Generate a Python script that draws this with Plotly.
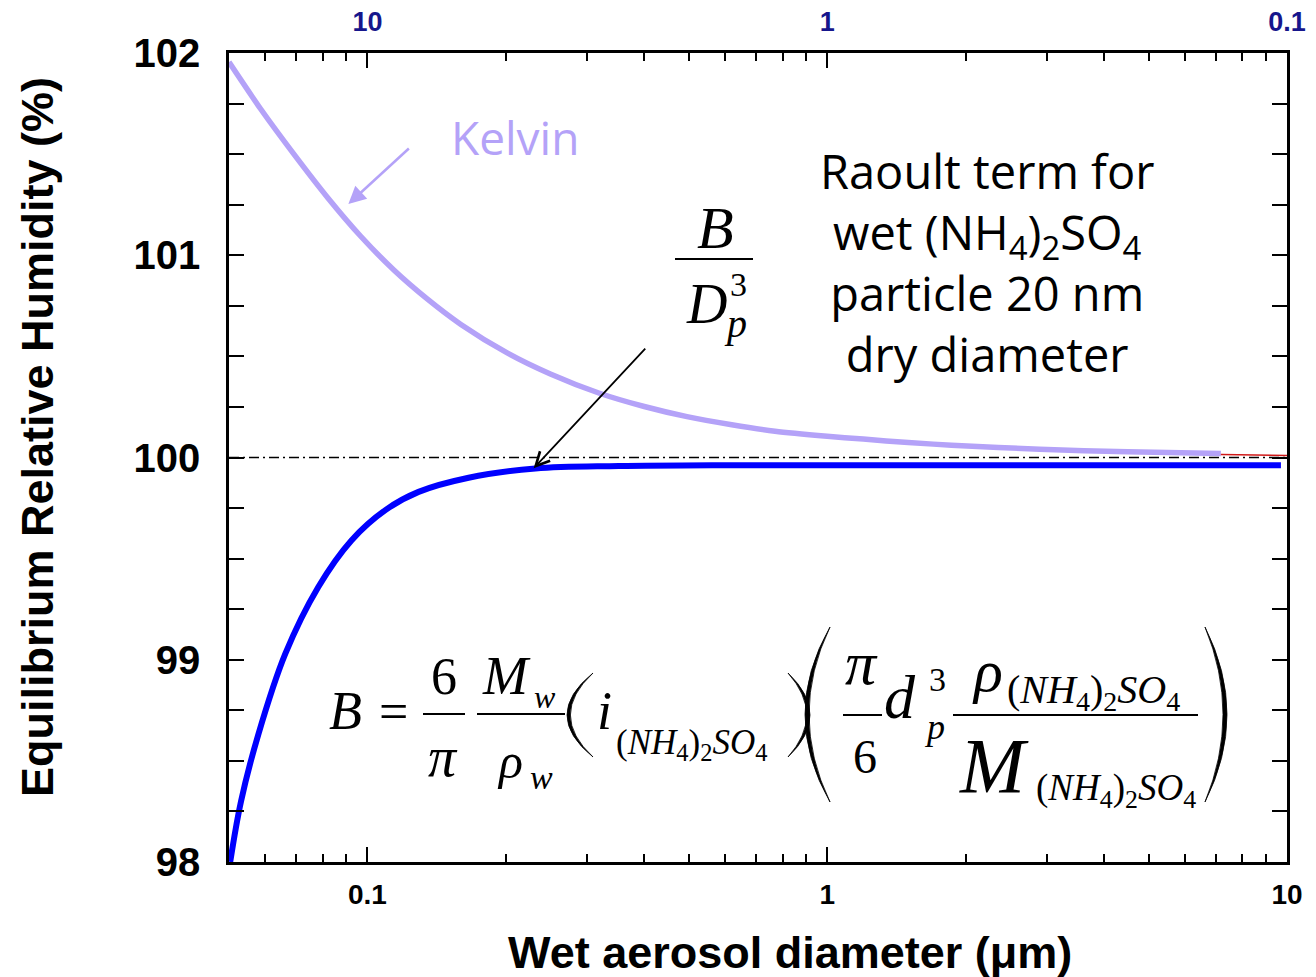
import math
import plotly.graph_objects as go

# ---------------- data ----------------
kelvin_d = [0.05, 0.0586, 0.0692, 0.0818, 0.0967, 0.1143, 0.1351, 0.1597, 0.2018, 0.25,
            0.3186, 0.4, 0.4955, 0.62, 0.770, 1.0, 1.198, 1.5, 1.863, 2.897, 4.504, 7.18]
kelvin_rh = [101.955, 101.723, 101.50, 101.287, 101.094, 100.926, 100.783, 100.658, 100.516,
             100.413, 100.319, 100.252, 100.202, 100.162, 100.130, 100.105, 100.091, 100.074,
             100.061, 100.041, 100.028, 100.02]

raoult_d = [0.0503, 0.0531, 0.0579, 0.0663, 0.0782, 0.0923, 0.1094, 0.1292, 0.166,
            0.232, 0.352, 0.6, 1.0, 2.0, 5.0, 9.7]
raoult_rh = [98.0, 98.30, 98.63, 99.03, 99.36, 99.59, 99.74, 99.83, 99.90,
             99.946, 99.958, 99.962, 99.962, 99.962, 99.962, 99.962]

red_d = [7.18, 10.0]
red_rh = [100.015, 100.010]

ref_d = [0.05, 10.0]
ref_rh = [100.0, 100.0]

x_range = [0.05, 10.0]
y_range = [98, 102]
x_major = [0.1, 1, 10]
x_major_text = ["0.1", "1", "10"]
x_top_text = ["10", "1", "0.1"]
x_minor = [0.06, 0.07, 0.08, 0.09, 0.2, 0.3, 0.4, 0.5, 0.6, 0.7, 0.8, 0.9,
           2, 3, 4, 5, 6, 7, 8, 9]

# ---------------- layout helpers ----------------
W, H = 1316, 977
ML, MR, MT, MB = 229, 29, 53, 115
PW, PH = W - ML - MR, H - MT - MB


def px(x):
    return (x - ML) / PW


def py(y):
    return (H - MB - y) / PH


SANS = "Liberation Sans, Arial, sans-serif"
SERIF = "Liberation Serif, Times New Roman, serif"
HAND = "Open Sans, sans-serif"
PURPLE = "#B4A2F8"
BLUE = "#0000FF"
NAVY = "#16168C"

fig = go.Figure()
fig.add_trace(go.Scatter(x=ref_d, y=ref_rh, mode="lines", hoverinfo="skip",
                         line=dict(color="black", width=1.5, dash="10px,4px,2px,4px")))
fig.add_trace(go.Scatter(x=kelvin_d, y=kelvin_rh, mode="lines", name="Kelvin",
                         line=dict(color=PURPLE, width=5.5, shape="spline", smoothing=0.8)))
fig.add_trace(go.Scatter(x=red_d, y=red_rh, mode="lines", hoverinfo="skip",
                         line=dict(color="#D01818", width=1.5)))
fig.add_trace(go.Scatter(x=raoult_d, y=raoult_rh, mode="lines", name="Raoult",
                         line=dict(color=BLUE, width=6, shape="spline")))
fig.add_trace(go.Scatter(x=x_range, y=ref_rh, xaxis="x2", mode="lines", opacity=0,
                         hoverinfo="skip", line=dict(width=0)))

annotations = []


def tok(text, cx, base, size, anchor="center"):
    top = base - 0.891 * size - 1
    annotations.append(dict(text=text, xref="paper", yref="paper", x=px(cx), y=py(top),
                            xanchor=anchor, yanchor="top", showarrow=False,
                            font=dict(family=SERIF, size=size, color="black")))


chem = "(<i>NH</i><sub>4</sub>)<sub>2</sub><i>SO</i><sub>4</sub>"

# B / Dp^3
tok("<i>B</i>", 715, 247, 60)
tok("<i>D</i>", 706, 322, 56)
tok("3", 738, 295, 34)
tok("<i>p</i>", 735, 336, 40)

# main equation, left part
tok("<i>B</i>", 345, 728, 54)
tok("=", 393, 728, 52)
tok("6", 444, 693, 52)
tok("<i>π</i>", 443, 775, 56)
tok("<i>M</i>", 506, 693, 54)
tok("<i>w</i>", 545, 707, 32)
tok("<i>ρ</i>", 510, 777, 50)
tok("<i>w</i>", 541, 788, 34)
tok("<i>i</i>", 604, 728, 54)
tok(chem, 614, 753, 35, anchor="left")

# right part
tok("<i>π</i>", 861, 683, 62)
tok("6", 865, 772, 48)
tok("<i>d</i>", 900, 717, 62)
tok("3", 937, 690, 34)
tok("<i>p</i>", 934, 738, 36)
tok("<i>ρ</i>", 987, 690, 60)
tok(chem, 1005, 702, 40, anchor="left")
tok("<i>M</i>", 994, 790, 78)
tok(chem, 1034, 799, 37, anchor="left")

shapes = []


def hline(x0, x1, y):
    shapes.append(dict(type="line", xref="paper", yref="paper", x0=px(x0), x1=px(x1),
                       y0=py(y), y1=py(y), line=dict(color="black", width=2.2)))


def paren(x0, x1, y0, y1, left=True, t=3.5):
    ym = (y0 + y1) / 2
    if left:
        e = x1
        co = 2 * x0 - x1
        ci = 2 * (x0 + t) - x1
    else:
        e = x0
        co = 2 * x1 - x0
        ci = 2 * (x1 - t) - x0
    path = (f"M{px(e)},{py(y0)} Q{px(co)},{py(ym)} {px(e)},{py(y1)} "
            f"Q{px(ci)},{py(ym)} {px(e)},{py(y0)} Z")
    shapes.append(dict(type="path", xref="paper", yref="paper", path=path,
                       fillcolor="black", line=dict(color="black", width=0.8)))


hline(675, 753, 259)
hline(423, 465, 714)
hline(477, 565, 714)
hline(843, 882, 715)
hline(953, 1198, 715)
paren(567, 593, 673, 757, left=True, t=3.4)
paren(788, 810, 673, 757, left=False, t=3.4)
paren(805, 830, 627, 802, left=True, t=4)
paren(1205, 1227, 627, 802, left=False, t=4)

# texts
annotations.append(dict(text="Kelvin", xref="paper", yref="paper", x=px(515), y=py(137),
                        xanchor="center", yanchor="middle", showarrow=False,
                        font=dict(family=HAND, size=46, color=PURPLE)))
annotations.append(dict(text="Raoult term for<br>wet (NH<sub>4</sub>)<sub>2</sub>SO<sub>4</sub>"
                             "<br>particle 20 nm<br>dry diameter",
                        xref="paper", yref="paper", x=px(987), y=py(262),
                        xanchor="center", yanchor="middle", align="center", showarrow=False,
                        font=dict(family=HAND, size=47, color="black")))
annotations.append(dict(text="Wet aerosol diameter (μm)", xref="paper", yref="paper",
                        x=px(790), y=py(952), xanchor="center", yanchor="middle",
                        showarrow=False,
                        font=dict(family=SANS, size=45, color="black", weight="bold")))
annotations.append(dict(text="Equilibrium Relative Humidity (%)", xref="paper", yref="paper",
                        x=px(37), y=py(437), xanchor="center", yanchor="middle",
                        textangle=-90, showarrow=False,
                        font=dict(family=SANS, size=45, color="black", weight="bold")))

# arrows
annotations.append(dict(x=math.log10(0.0909), y=101.253, xref="x", yref="y", text="",
                        showarrow=True, ax=62, ay=-57, arrowcolor=PURPLE, arrowwidth=2.5,
                        arrowhead=2, arrowsize=1.4, standoff=0))
annotations.append(dict(x=math.log10(0.2299), y=99.947, xref="x", yref="y", text="",
                        showarrow=True, ax=113, ay=-121, arrowcolor="black", arrowwidth=1.8,
                        arrowhead=5, arrowsize=1.5, standoff=0))

tickfont = dict(family=SANS, size=28, color="black", weight="bold")
fig.update_layout(
    width=W, height=H,
    margin=dict(l=ML, r=MR, t=MT, b=MB, pad=0, autoexpand=False),
    paper_bgcolor="white", plot_bgcolor="white",
    showlegend=False,
    xaxis=dict(type="log", range=[math.log10(x_range[0]), math.log10(x_range[1])],
               automargin=False,
               tickmode="array", tickvals=x_major, ticktext=x_major_text,
               ticks="inside", ticklen=15, tickwidth=2, tickcolor="black",
               showline=True, linewidth=2.5, linecolor="black", mirror="allticks",
               showgrid=False, zeroline=False, tickfont=tickfont, ticklabelstandoff=6,
               minor=dict(tickmode="array", tickvals=x_minor, ticks="inside", ticklen=8,
                          tickwidth=1.8, tickcolor="black", showgrid=False)),
    xaxis2=dict(type="log", overlaying="x", side="top", automargin=False,
                range=[math.log10(x_range[0]), math.log10(x_range[1])],
                tickmode="array", tickvals=x_major, ticktext=x_top_text,
                ticks="", showline=False, showgrid=False, zeroline=False,
                tickfont=dict(family=SANS, size=27, color=NAVY, weight="bold"),
                ticklabelstandoff=16),
    yaxis=dict(range=y_range, tickmode="linear", tick0=98, dtick=1, automargin=False,
               ticks="inside", ticklen=15, tickwidth=2, tickcolor="black",
               showline=True, linewidth=2.5, linecolor="black", mirror="allticks",
               showgrid=False, zeroline=False,
               tickfont=dict(family=SANS, size=40, color="black", weight="bold"),
               ticklabelstandoff=18,
               minor=dict(dtick=0.25, ticks="inside", ticklen=8, tickwidth=1.8,
                          tickcolor="black", showgrid=False)),
    annotations=annotations,
    shapes=shapes,
)

fig.write_html("out.html")
